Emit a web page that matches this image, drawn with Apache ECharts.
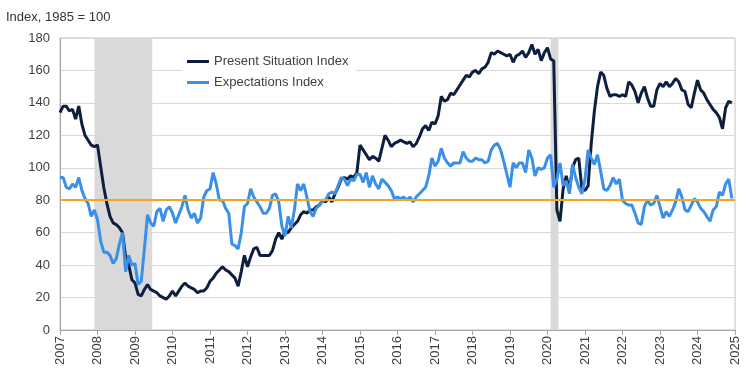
<!DOCTYPE html>
<html><head><meta charset="utf-8">
<script src="https://cdn.jsdelivr.net/npm/echarts@6/dist/echarts.min.js"></script>
<style>html,body{margin:0;padding:0;background:#fff}#c{width:750px;height:375px}</style>
</head><body><div id="c"></div>
<script>
// Monthly data, Jan 2007 - Dec 2024
const startYear = 2007;
const yearTicks = [2007,2008,2009,2010,2011,2012,2013,2014,2015,2016,2017,2018,2019,2020,2021,2022,2023,2024,2025];
const valueTicks = [0,20,40,60,80,100,120,140,160,180];

const presentSituation = [
  134,138,138,135,136,130,138,127,120,117,114,113, // 2007
  114,101,88,78,70,66,65,63,60,45,40,31,           // 2008
  29,22,21,25,28,25,24,23,21,20,19,21,             // 2009
  24,21,24,27,29,27,26,25,23,24,24,26,             // 2010
  30,32,35,37,39,37,36,34,32,27,36,46,             // 2011
  39,45,50,51,46,46,46,46,49,56,60,56,             // 2012
  61,60,63,65,67,71,73,72,74,74,76,77,             // 2013
  80,79,82,79,84,88,93,94,93,95,94,97,             // 2014
  114,111,108,105,107,106,104,112,120,117,113,115, // 2015
  116,117,116,115,116,113,115,119,124,126,123,128, // 2016
  127,132,144,141,142,146,145,148,151,154,157,156, // 2017
  159,160,158,161,162,165,171,170,172,171,170,169, // 2018
  170,165,169,170,172,168,171,176,170,173,166,171, // 2019
  174,167,166,74,67,87,95,86,100,105,106,87,       // 2020
  86,89,115,135,150,159,157,149,144,145,145,144,   // 2021
  145,144,153,151,147,140,146,150,143,138,138,148, // 2022
  152,150,153,150,152,155,153,148,147,139,137,146, // 2023
  154,148,146,142,139,136,134,131,124,137,141,140  // 2024
];

const expectations = [
  94,94,88,87,90,88,94,86,81,78,70,74,             // 2007
  68,55,48,48,46,41,44,53,60,36,46,40,             // 2008
  41,28,30,50,71,66,64,73,75,67,74,76,             // 2009
  72,66,71,76,83,74,69,72,66,69,82,86,             // 2010
  87,97,90,80,80,75,72,53,52,50,60,76,             // 2011
  78,87,82,79,76,72,72,75,83,84,79,64,             // 2012
  58,70,63,74,90,86,90,82,73,70,75,77,             // 2013
  80,80,84,85,84,89,94,93,89,93,92,96,             // 2014
  96,91,97,88,95,90,87,93,91,89,86,81,             // 2015
  82,81,82,80,82,79,82,84,86,88,95,106,            // 2016
  101,104,112,106,103,101,103,103,103,110,106,104, // 2017
  104,106,105,105,103,104,111,114,115,111,104,96,  // 2018
  88,103,100,103,103,97,111,106,95,100,99,100,     // 2019
  106,108,88,93,103,89,92,84,102,94,88,84,         // 2020
  93,111,106,102,108,98,87,86,89,94,90,93,         // 2021
  80,78,77,77,72,66,65,76,80,77,78,83,             // 2022
  76,69,73,70,74,79,87,82,74,73,77,81,             // 2023
  79,75,73,70,67,74,76,85,83,90,93,81              // 2024
];

// Recessions: [peakYear, peakMonth, troughYear, troughMonth]
const recessions = [[2007,12,2009,6],[2020,2,2020,4]];
const referenceLevel = 80;

const toPairs = arr => arr.map((v,i) => [startYear + i/12, v]);

const chart = echarts.init(document.getElementById('c'), null, {renderer:'canvas'});
const font = 'Liberation Sans, Arial, sans-serif';
chart.setOption({
  animation: false,
  backgroundColor: '#fff',
  textStyle: {fontFamily: font},
  title: {
    text: 'Index, 1985 = 100', left: 1, top: 6,
    textStyle: {fontSize: 13, fontWeight: 'normal', color: '#333', fontFamily: font}
  },
  grid: {left: 60, right: 15, top: 38, bottom: 45, show: true, borderColor: '#bfbfbf', borderWidth: 1},
  legend: {
    orient: 'vertical', left: 182, top: 51,
    icon: 'rect', itemWidth: 22, itemHeight: 3, itemGap: 8,
    backgroundColor: '#fff', padding: [4, 8, 4, 5],
    textStyle: {fontSize: 13, color: '#404040', fontFamily: font},
    data: ['Present Situation Index', 'Expectations Index']
  },
  xAxis: {
    type: 'value', min: yearTicks[0], max: yearTicks[yearTicks.length-1], interval: 1,
    axisLine: {show: true, lineStyle: {color: '#a6a6a6'}},
    axisTick: {show: true, length: 5, lineStyle: {color: '#a6a6a6'}},
    splitLine: {show: false},
    axisLabel: {
      rotate: 90, fontSize: 13, color: '#404040', margin: 6, fontFamily: font,
      formatter: v => yearTicks.includes(Math.round(v)) ? String(Math.round(v)) : ''
    }
  },
  yAxis: {
    type: 'value', min: valueTicks[0], max: valueTicks[valueTicks.length-1], interval: 20,
    axisLine: {show: true, lineStyle: {color: '#a6a6a6'}},
    axisTick: {show: false},
    splitLine: {show: true, lineStyle: {color: '#d9d9d9', width: 1}},
    axisLabel: {fontSize: 13, color: '#404040', margin: 10, fontFamily: font}
  },
  series: [
    {
      name: 'recessions', type: 'line', data: [], z: 1, silent: true,
      markArea: {
        silent: true,
        itemStyle: {color: '#d9d9d9'},
        data: recessions.map(r => [
          {xAxis: r[0] + (r[1]-1)/12},
          {xAxis: r[2] + (r[3]-0.5)/12}
        ])
      },
      markLine: {
        silent: true, symbol: 'none', label: {show: false},
        lineStyle: {color: '#F2A81D', width: 2, type: 'solid'},
        data: [{yAxis: referenceLevel}]
      }
    },
    {
      name: 'Present Situation Index', type: 'line', z: 3,
      data: toPairs(presentSituation), showSymbol: false, symbol: 'none',
      lineStyle: {color: '#0E1F3D', width: 3}, itemStyle: {color: '#0E1F3D'}
    },
    {
      name: 'Expectations Index', type: 'line', z: 4,
      data: toPairs(expectations), showSymbol: false, symbol: 'none',
      lineStyle: {color: '#3A8FE8', width: 3}, itemStyle: {color: '#3A8FE8'}
    }
  ]
});
</script>
</body></html>
